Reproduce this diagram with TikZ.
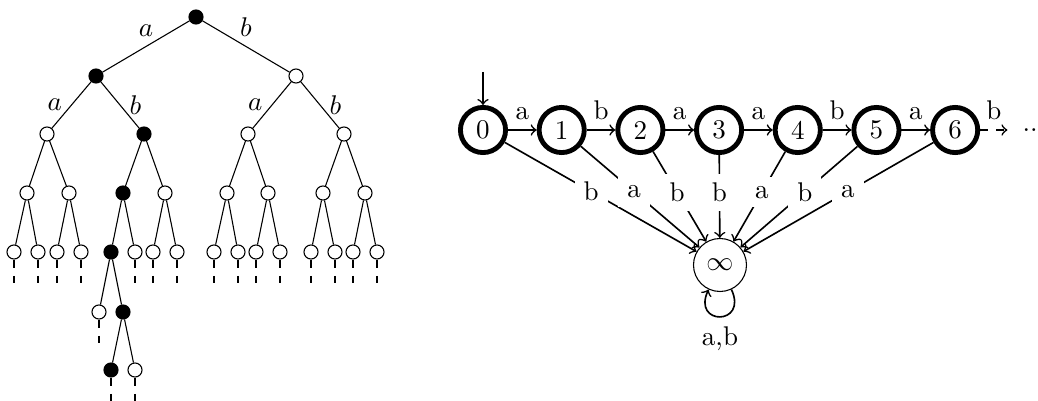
\documentclass[tikz,border=0pt]{standalone}
\usepackage{amsmath}
\usepackage{tikz}

\begin{document}
\begin{tikzpicture}[x=0.013cm, y=-0.013cm,
  vert/.style = {draw, circle, inner sep=0pt, minimum size=5.2pt},
  blk/.style = {vert, fill=black},
  main/.style = {draw, circle, line width=1.8pt, inner sep=0pt, minimum size=16.7pt},
  sink/.style = {draw, circle, inner sep=0pt, minimum size=19.6pt},
  lab/.style = {fill=white, pos=0.45},
  trans/.style = {->, semithick},
  node distance=1.023cm]
\useasboundingbox (0,0) rectangle (1038,401);
% tree of words
\node[blk] (r) at (196,17) {};
\node[blk] (a) at (96,76) {};
\node[vert] (b) at (296,76) {};
\node[vert] (aa) at (47,134) {};
\node[blk] (ab) at (144,134) {};
\node[vert] (ba) at (248,134) {};
\node[vert] (bb) at (344,134) {};
\node[vert] (aaa) at (27,193) {};
\node[vert] (aab) at (69,193) {};
\node[blk] (aba) at (123,193) {};
\node[vert] (abb) at (165,193) {};
\node[vert] (baa) at (227,193) {};
\node[vert] (bab) at (268,193) {};
\node[vert] (bba) at (323,193) {};
\node[vert] (bbb) at (365,193) {};
\node[vert] (aaaa) at (14,252) {};
\node[vert] (aaab) at (38,252) {};
\node[vert] (aaba) at (57,252) {};
\node[vert] (aabb) at (81,252) {};
\node[blk] (abaa) at (111,252) {};
\node[vert] (abab) at (135,252) {};
\node[vert] (abba) at (153,252) {};
\node[vert] (abbb) at (177,252) {};
\node[vert] (baaa) at (214,252) {};
\node[vert] (baab) at (238,252) {};
\node[vert] (baba) at (256,252) {};
\node[vert] (babb) at (280,252) {};
\node[vert] (bbaa) at (311,252) {};
\node[vert] (bbab) at (335,252) {};
\node[vert] (bbba) at (353,252) {};
\node[vert] (bbbb) at (377,252) {};
\node[vert] (abaaa) at (99,312) {};
\node[blk] (abaab) at (123,312) {};
\node[blk] (abaaba) at (111,370) {};
\node[vert] (abaabb) at (135,370) {};
\draw (r) -- node[above] {$a$} (a);
\draw (r) -- node[above] {$b$} (b);
\draw (a) -- node[left] {$a$} (aa);
\draw (a) -- node[right] {$b$} (ab);
\draw (b) -- node[left] {$a$} (ba);
\draw (b) -- node[right] {$b$} (bb);
\foreach \p in {aa,ab,ba,bb,aaa,aab,aba,abb,baa,bab,bba,bbb,abaa,abaab}
  \draw (\p) -- (\p a) (\p) -- (\p b);
\foreach \n in {aaaa,aaab,aaba,aabb,abab,abba,abbb,baaa,baab,baba,babb,bbaa,bbab,bbba,bbbb,abaaa,abaaba,abaabb} {
  \coordinate (\n-end) at ([yshift=-0.31cm]\n.south);
  \draw[dashed] (\n) -- (\n-end);
}
% automaton
\node[main] (0) at (483,130) {0};
\node[main] (1) [right of=0] {1};
\node[main] (2) [right of=1] {2};
\node[main] (3) [right of=2] {3};
\node[main] (4) [right of=3] {4};
\node[main] (5) [right of=4] {5};
\node[main] (6) [right of=5] {6};
\node (dots) [right of=6, inner xsep=5.4pt] {...};
\node[sink] (inf) at (720,265) {$\infty$};
\coordinate (start) at (483,72);
\draw[trans] (start) -- (0);
\draw[trans] (0) -- node[above] {a} (1);
\draw[trans] (1) -- node[above] {b} (2);
\draw[trans] (2) -- node[above] {a} (3);
\draw[trans] (3) -- node[above] {a} (4);
\draw[trans] (4) -- node[above] {b} (5);
\draw[trans] (5) -- node[above] {a} (6);
\draw[trans, dashed] (6) -- node[above] {b} (dots);
\foreach \s/\x in {0/b,1/a,2/b,3/b,4/a,5/b,6/a}
  \draw[trans] (\s) -- node[lab] {\x} (inf);
\draw[trans] (inf) to[out=-65, in=-115, looseness=4.5] node[below] {a,b} (inf);
\end{tikzpicture}
\end{document}
